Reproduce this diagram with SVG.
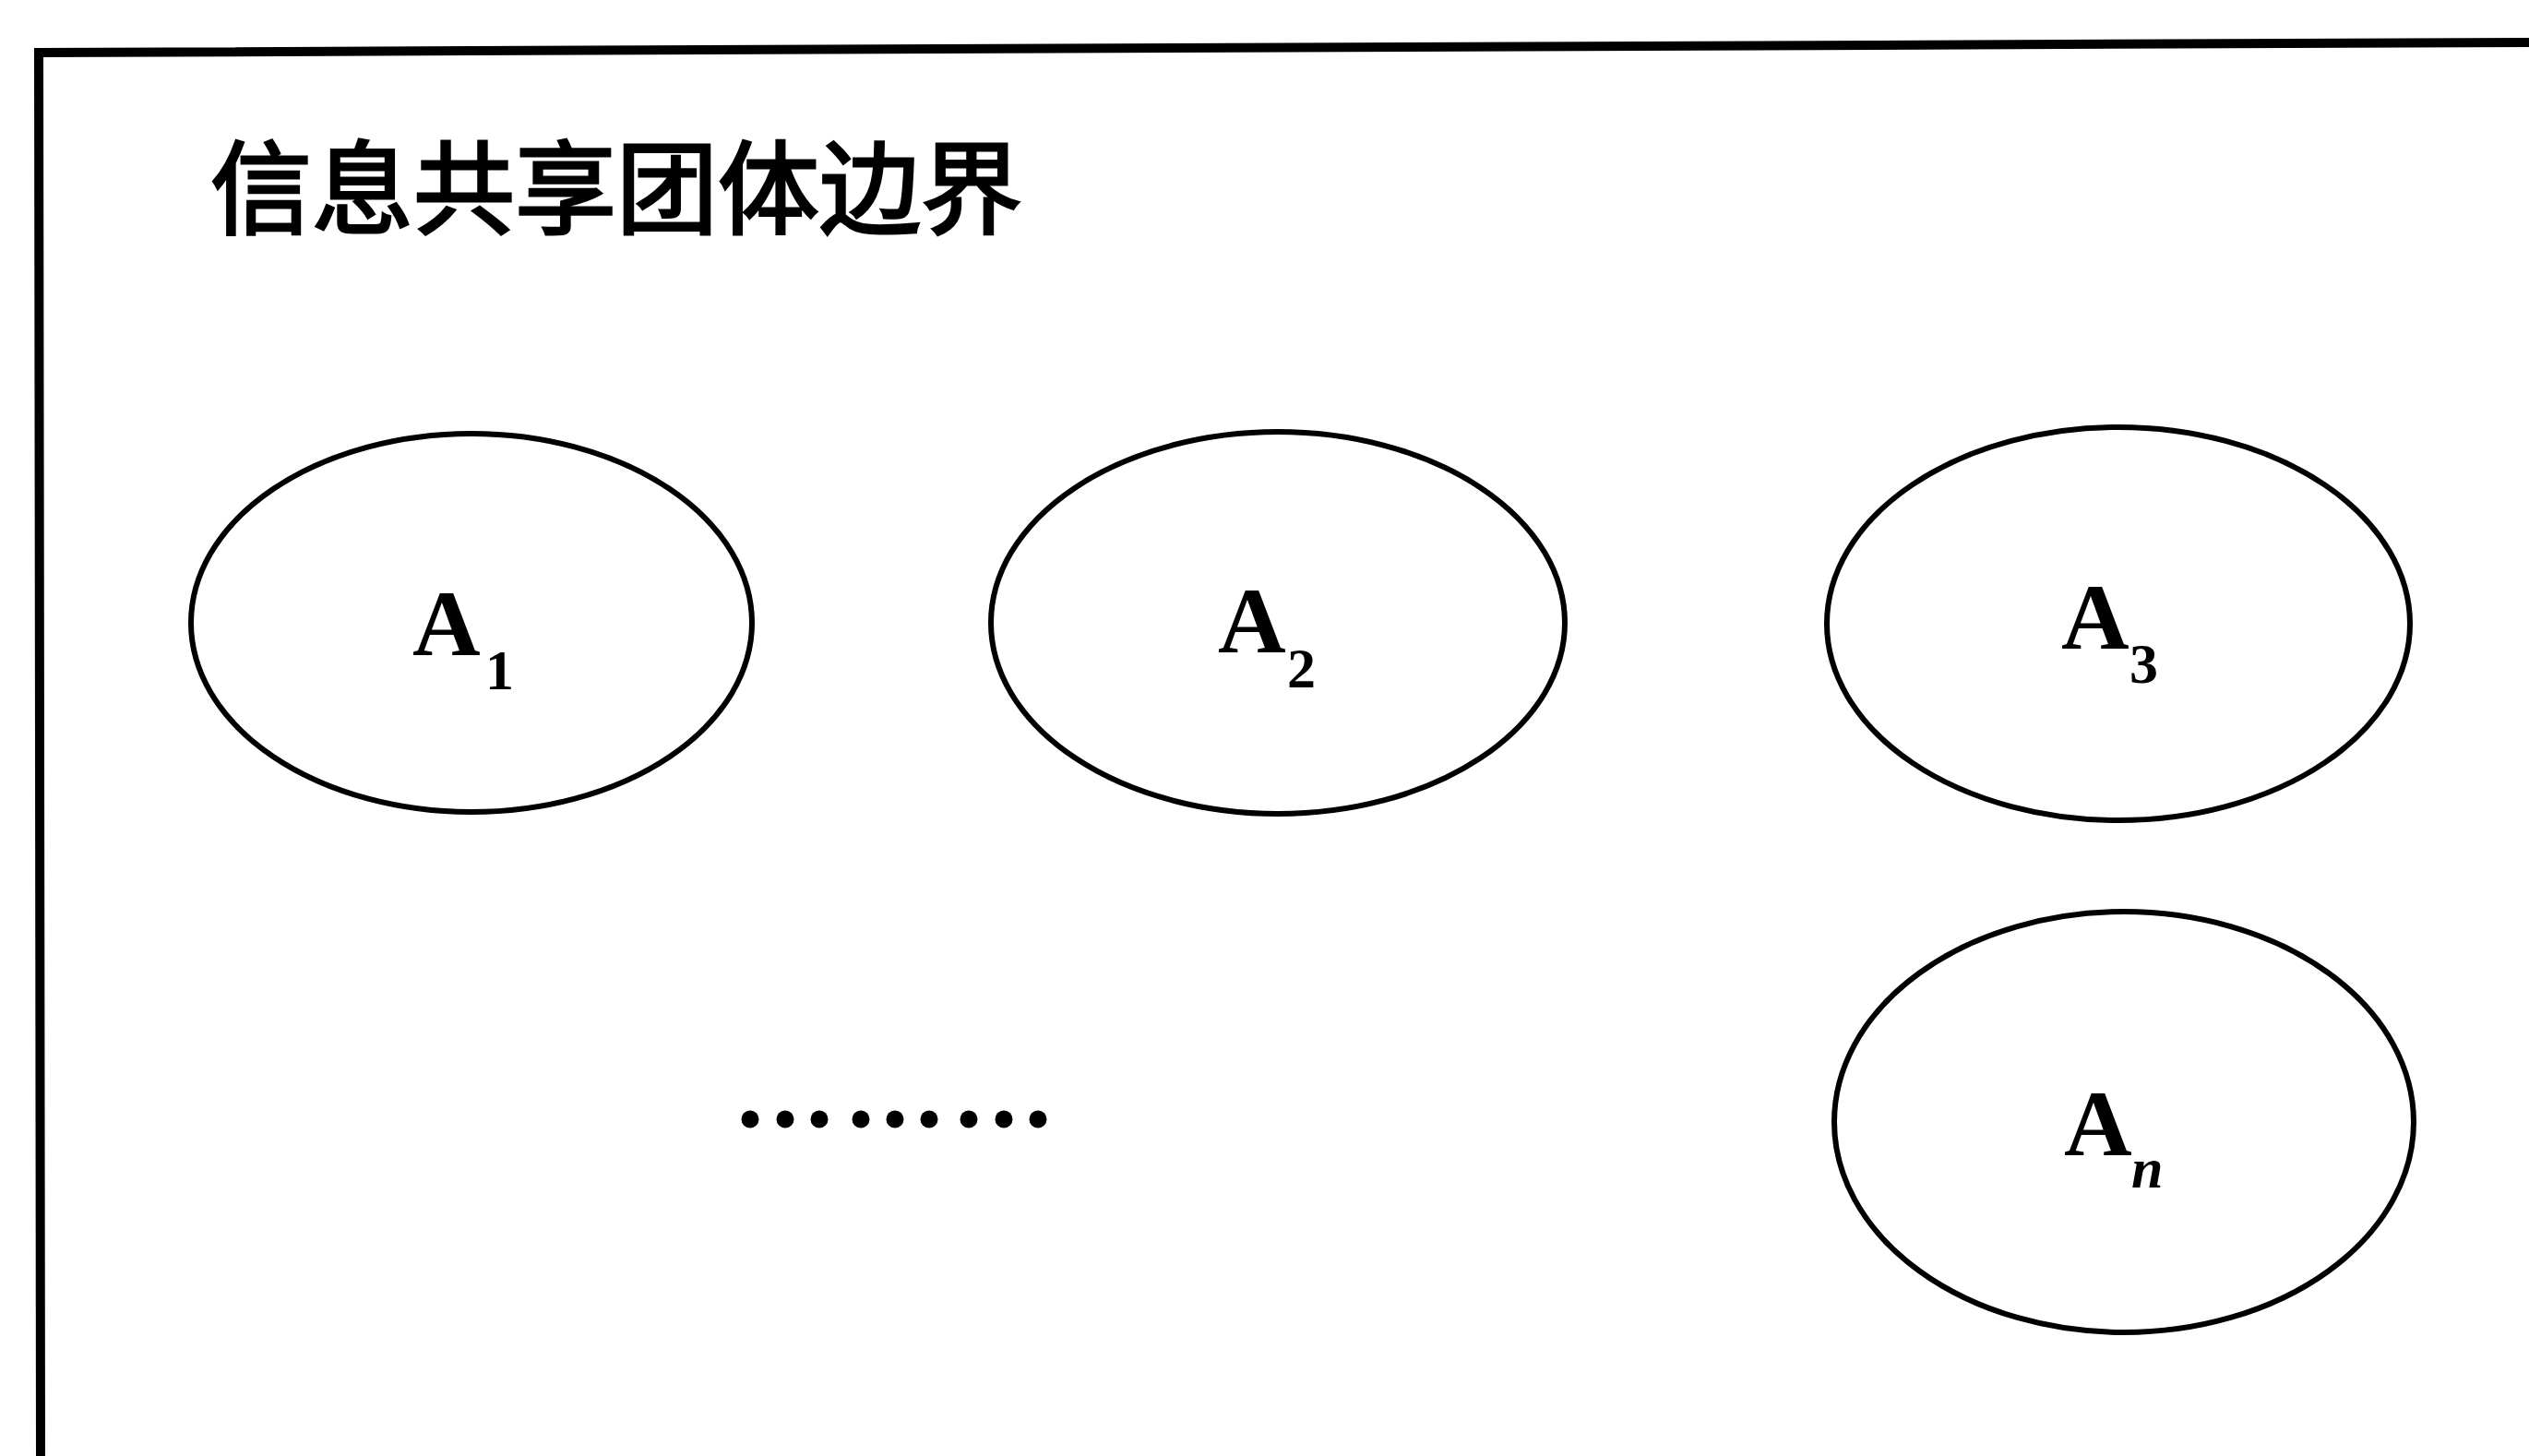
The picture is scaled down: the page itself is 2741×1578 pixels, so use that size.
<svg xmlns="http://www.w3.org/2000/svg" width="2741" height="1578" viewBox="0 0 2741 1578">
<style>
.node{fill:none;stroke:#000;stroke-width:6}
.lbl{font-family:"Liberation Serif","Times New Roman",serif;font-size:102px;font-weight:bold;fill:#000}
.sub{font-family:"Liberation Serif","Times New Roman",serif;font-size:62px;font-weight:bold;fill:#000}
.title{font-family:"Noto Sans CJK SC","Noto Sans CJK JP",sans-serif;font-size:110px;font-weight:normal;fill:#000;stroke:#000;stroke-width:3}
.dot{fill:#000}
</style>
<rect width="2741" height="1578" fill="#fff"/>
<g id="boundary">
<polyline points="44,1578 42,57 2741,46" fill="none" stroke="#000" stroke-width="10"/>
<text class="title" x="228" y="245">信息共享团体边界</text>
</g>
<g id="connectors"></g>
<g id="node-A1">
<ellipse class="node" cx="511" cy="675" rx="304" ry="205"/>
<text class="lbl" x="447" y="710">A</text><text class="sub" x="526" y="747">1</text>
</g>
<g id="node-A2">
<ellipse class="node" cx="1385" cy="675" rx="311" ry="207"/>
<text class="lbl" x="1320" y="707">A</text><text class="sub" x="1395" y="745">2</text>
</g>
<g id="node-A3">
<ellipse class="node" cx="2296" cy="676" rx="316" ry="213"/>
<text class="lbl" x="2234" y="703">A</text><text class="sub" x="2308" y="740">3</text>
</g>
<g id="node-An">
<ellipse class="node" cx="2302" cy="1216" rx="314" ry="228"/>
<text class="lbl" x="2237" y="1252">A</text><text class="sub" x="2310" y="1287" font-style="italic">n</text>
</g>
<g id="ellipsis">
<circle class="dot" cx="813" cy="1213" r="9.5"/>
<circle class="dot" cx="851" cy="1213" r="9.5"/>
<circle class="dot" cx="888" cy="1213" r="9.5"/>
<circle class="dot" cx="933" cy="1213" r="9.5"/>
<circle class="dot" cx="970" cy="1213" r="9.5"/>
<circle class="dot" cx="1007" cy="1213" r="9.5"/>
<circle class="dot" cx="1050" cy="1213" r="9.5"/>
<circle class="dot" cx="1088" cy="1213" r="9.5"/>
<circle class="dot" cx="1125" cy="1213" r="9.5"/>
</g>
</svg>
